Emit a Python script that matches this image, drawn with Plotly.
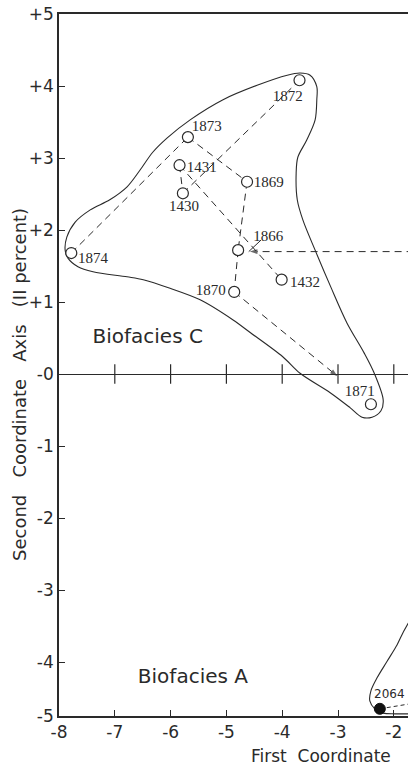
import plotly.graph_objects as go

# ---------------- data ----------------
stations = ["1872", "1873", "1431", "1869", "1430", "1874", "1866", "1432", "1870", "1871"]
st_x = [-3.69, -5.69, -5.84, -4.63, -5.78, -7.78, -4.79, -4.01, -4.86, -2.41]
st_y = [4.08, 3.29, 2.90, 2.67, 2.51, 1.68, 1.72, 1.31, 1.14, -0.42]
lab_x = [-3.90, -5.35, -5.44, -4.24, -5.76, -7.39, -4.25, -3.59, -5.28, -2.61]
lab_y = [3.85, 3.43, 2.86, 2.65, 2.32, 1.60, 1.90, 1.26, 1.15, -0.25]

links = [("1874", "1873"), ("1873", "1869"), ("1869", "1866"), ("1431", "1430"),
         ("1430", "1872"), ("1431", "1432"), ("1866", "1870")]

# arrows: start -> end
arrow_1870_x = [-4.86, -3.01]
arrow_1870_y = [1.14, -0.03]
arrow_in_x = [-1.0, -4.58]
arrow_in_y = [1.70, 1.70]
leader_x = [-4.60, -4.38]
leader_y = [1.70, 1.86]

# Biofacies C envelope
outline_x = [-3.68, -3.50, -3.38, -3.38, -3.41, -3.56, -3.72, -3.75, -3.73, -3.63, -3.41,
             -3.13, -2.84, -2.53, -2.35, -2.19, -2.23, -2.39, -2.57, -2.78, -3.14, -3.68,
             -3.99, -4.58, -4.88, -5.47, -6.01, -6.49, -6.78, -7.39, -7.66, -7.84, -7.89,
             -7.86, -7.71, -7.44, -7.09, -6.78, -6.55, -6.32, -6.06, -5.65, -5.06, -4.45,
             -3.91, -3.68]
outline_y = [4.18, 4.15, 3.99, 3.81, 3.53, 3.25, 3.01, 2.79, 2.42, 2.14, 1.72,
             1.21, 0.71, 0.29, 0.01, -0.36, -0.51, -0.60, -0.60, -0.47, -0.26, 0.01,
             0.24, 0.58, 0.75, 1.03, 1.19, 1.31, 1.35, 1.42, 1.49, 1.61, 1.72,
             1.90, 2.11, 2.28, 2.42, 2.60, 2.83, 3.08, 3.28, 3.53, 3.81, 4.01,
             4.15, 4.18]

# Biofacies A envelope (partial, lower right)
outlineA_x = [-1.71, -1.84, -1.94, -2.12, -2.30, -2.41, -2.43, -2.34, -2.19, -1.98, -1.71]
outlineA_y = [-3.42, -3.60, -3.76, -3.99, -4.22, -4.40, -4.54, -4.65, -4.71, -4.72, -4.72]

stA_name = ["2064"]
stA_x = [-2.25]
stA_y = [-4.65]
stA_lab_x = [-2.08]
stA_lab_y = [-4.46]
stA_link_x = [-2.25, -1.70]
stA_link_y = [-4.65, -4.58]

zero_ticks_x = [-7, -6, -5, -4, -3, -2]
zero_ticks_y = [0, 0, 0, 0, 0, 0]

x_tickvals = [-8, -7, -6, -5, -4, -3, -2]
x_ticktext = ["-8", "-7", "-6", "-5", "-4", "-3", "-2"]
y_tickvals = [5, 4, 3, 2, 1, 0, -1, -2, -3, -4, -4.75]
y_ticktext = ["+5", "+4", "+3", "+2", "+1", "-0", "-1", "-2", "-3", "-4", "-5"]

region_labels = ["Biofacies C", "Biofacies A"]
region_x = [-6.41, -5.60]
region_y = [0.50, -4.22]

SANS = "'DejaVu Sans', sans-serif"
SERIF = "'Liberation Serif', serif"
INK = "#2a2a2a"

fig = go.Figure()

# envelopes
for ox, oy in [(outline_x, outline_y), (outlineA_x, outlineA_y)]:
    fig.add_trace(go.Scatter(x=ox, y=oy, mode="lines",
                             line=dict(color=INK, width=1.1, shape="spline", smoothing=0.9),
                             hoverinfo="skip", showlegend=False))

idx = {s: i for i, s in enumerate(stations)}
dash = "7px,5px"
for a, b in links:
    fig.add_trace(go.Scatter(x=[st_x[idx[a]], st_x[idx[b]]], y=[st_y[idx[a]], st_y[idx[b]]],
                             mode="lines", line=dict(color=INK, width=1, dash=dash),
                             hoverinfo="skip", showlegend=False))

for ax_, ay_ in [(arrow_1870_x, arrow_1870_y), (arrow_in_x, arrow_in_y)]:
    fig.add_trace(go.Scatter(x=ax_, y=ay_, mode="lines+markers",
                             line=dict(color=INK, width=1, dash=dash),
                             marker=dict(symbol=["circle", "arrow"], size=[0, 8], color=INK,
                                         angleref="previous", line=dict(width=0)),
                             hoverinfo="skip", showlegend=False))

fig.add_trace(go.Scatter(x=leader_x, y=leader_y, mode="lines",
                         line=dict(color=INK, width=1), hoverinfo="skip", showlegend=False))
fig.add_trace(go.Scatter(x=stA_link_x, y=stA_link_y, mode="lines",
                         line=dict(color=INK, width=1, dash="4px,3px"),
                         hoverinfo="skip", showlegend=False))

# zero line crossing ticks
fig.add_trace(go.Scatter(x=zero_ticks_x, y=zero_ticks_y, mode="markers",
                         marker=dict(symbol="line-ns-open", size=14, color=INK,
                                     line=dict(color=INK, width=1.2)),
                         hoverinfo="skip", showlegend=False))

# stations
fig.add_trace(go.Scatter(x=st_x, y=st_y, mode="markers",
                         marker=dict(symbol="circle", size=11, color="white",
                                     line=dict(color=INK, width=1.2)),
                         hoverinfo="skip", showlegend=False))
fig.add_trace(go.Scatter(x=lab_x, y=lab_y, mode="text", text=stations,
                         textfont=dict(family=SERIF, size=15, color=INK),
                         hoverinfo="skip", showlegend=False))
fig.add_trace(go.Scatter(x=stA_x, y=stA_y, mode="markers",
                         marker=dict(symbol="circle", size=11, color="#111",
                                     line=dict(color="#111", width=1)),
                         hoverinfo="skip", showlegend=False))
fig.add_trace(go.Scatter(x=stA_lab_x, y=stA_lab_y, mode="text", text=stA_name,
                         textfont=dict(family=SANS, size=12, color=INK),
                         hoverinfo="skip", showlegend=False))

# region labels
fig.add_trace(go.Scatter(x=region_x, y=region_y, mode="text", text=region_labels,
                         textfont=dict(family=SANS, size=20, color=INK),
                         hoverinfo="skip", showlegend=False))

fig.add_annotation(text="Second   Coordinate   Axis   (II percent)", textangle=-90,
                   xref="paper", x=-0.115, yref="y", y=-0.14,
                   xanchor="center", yanchor="middle", showarrow=False,
                   font=dict(family=SANS, size=18, color=INK))
fig.add_annotation(text="First  Coordinate",
                   xref="x", x=-4.59, yref="paper", y=-0.057,
                   xanchor="left", yanchor="middle", showarrow=False,
                   font=dict(family=SANS, size=17, color=INK))

fig.update_xaxes(range=[-8, -8 + 349 / 55.8], tickvals=x_tickvals, ticktext=x_ticktext,
                 showgrid=False, zeroline=False, showline=True, linecolor=INK, linewidth=1.6,
                 mirror=True, ticks="inside", ticklen=6, tickwidth=1.2, tickcolor=INK,
                 tickfont=dict(family=SANS, size=17, color=INK), fixedrange=True,
                 automargin=False)
fig.update_yaxes(range=[-4.75, 5], tickvals=y_tickvals, ticktext=y_ticktext,
                 showgrid=False, zeroline=True, zerolinecolor=INK, zerolinewidth=1.3,
                 showline=True, linecolor=INK, linewidth=1.6,
                 ticks="inside", ticklen=6, tickwidth=1.2, tickcolor=INK,
                 tickfont=dict(family=SANS, size=17, color=INK), fixedrange=True,
                 automargin=False)

fig.update_layout(width=408, height=774, margin=dict(l=59, r=0, t=14, b=58),
                  paper_bgcolor="white", plot_bgcolor="white", showlegend=False)

fig.write_html("out.html", config={"displayModeBar": False},
               post_script="document.body.style.margin='0';document.body.style.overflow='hidden';")
